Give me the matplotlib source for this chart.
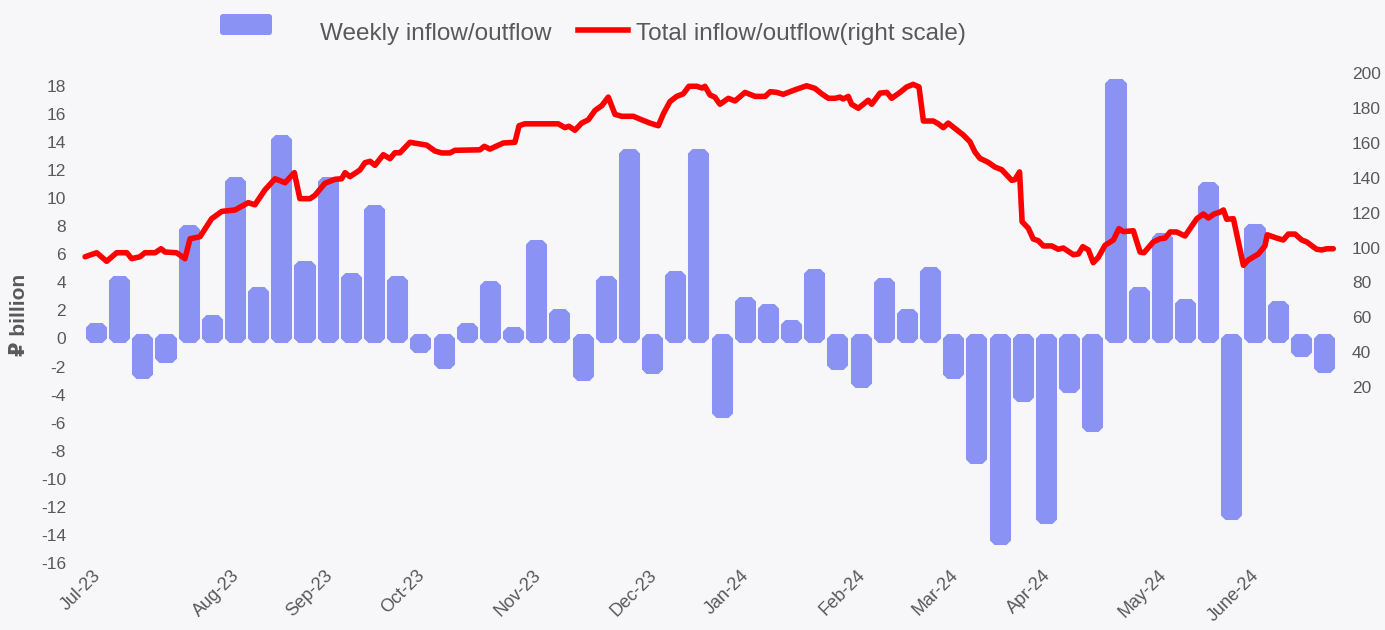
import matplotlib
matplotlib.use("Agg")
import matplotlib.pyplot as plt
import matplotlib.transforms as mtransforms
from matplotlib.patches import FancyBboxPatch
from matplotlib.lines import Line2D

# weekly inflow/outflow, RUB bn (one bar per week, Jul-23 .. Jun-24)
weekly_flow = [0.8, 4.2, -2.5, -1.4, 7.8, 1.4, 11.2, 3.4, 14.2, 5.2,
               11.2, 4.4, 9.2, 4.2, -0.7, -1.8, 0.8, 3.8, 0.5, 6.7,
               1.8, -2.7, 4.2, 13.2, -2.2, 4.5, 13.2, -5.3, 2.7, 2.2,
               1.0, 4.7, -1.9, -3.2, 4.0, 1.8, 4.8, -2.5, -8.6, -14.4,
               -4.2, -12.9, -3.5, -6.3, 18.2, 3.4, 7.2, 2.5, 10.9, -12.6,
               7.9, 2.4, -1.0, -2.1]

# cumulative total (right scale), position in weeks from first bar
total_week = [-0.47, 0.03, 0.46, 0.89, 1.33, 1.54, 1.90, 2.11, 2.55, 2.81,
              2.98, 3.48, 3.84, 4.06, 4.49, 4.99, 5.43, 6.00, 6.57, 6.86,
              7.29, 7.73, 8.16, 8.56, 8.80, 9.24, 9.45, 9.88, 10.32, 10.60,
              10.75, 10.96, 11.39, 11.61, 11.83, 12.04, 12.40, 12.69, 12.90, 13.12,
              13.55, 13.91, 14.27, 14.63, 14.92, 15.28, 15.49, 16.57, 16.76, 17.00,
              17.58, 18.08, 18.26, 18.51, 19.95, 20.24, 20.41, 20.67, 20.96, 21.25,
              21.54, 21.83, 22.11, 22.40, 22.69, 23.19, 23.55, 23.91, 24.27, 24.49,
              24.77, 25.06, 25.35, 25.59, 25.93, 26.16, 26.28, 26.50, 26.71, 26.93,
              27.29, 27.58, 28.01, 28.45, 28.88, 29.10, 29.38, 29.66, 30.17, 30.67,
              31.03, 31.32, 31.61, 31.89, 32.11, 32.25, 32.47, 32.61, 32.90, 33.33,
              33.48, 33.84, 34.13, 34.34, 34.70, 34.99, 35.27, 35.52, 35.71, 36.14,
              36.35, 36.57, 36.78, 37.07, 37.43, 37.72, 37.94, 38.15, 38.51, 38.80,
              39.09, 39.31, 39.52, 39.66, 39.86, 39.97, 40.24, 40.45, 40.67, 40.89,
              41.25, 41.53, 41.75, 42.18, 42.40, 42.59, 42.83, 43.04, 43.26, 43.55,
              43.91, 44.15, 44.34, 44.77, 45.06, 45.23, 45.63, 45.92, 46.14, 46.36,
              46.64, 47.00, 47.51, 47.79, 48.01, 48.26, 48.51, 48.66, 48.80, 49.09,
              49.52, 49.73, 50.17, 50.45, 50.55, 50.96, 51.24, 51.46, 51.75, 52.04,
              52.25, 52.68, 52.90, 53.12, 53.40]
total_flow = [94.7, 97.0, 92.1, 97.0, 97.0, 93.6, 94.7, 97.0, 97.0, 99.3,
              97.4, 97.0, 93.6, 105.0, 106.2, 116.5, 120.7, 121.5, 125.7, 124.5,
              133.0, 139.4, 137.1, 142.9, 128.0, 128.0, 129.9, 136.8, 139.1, 139.4,
              142.9, 140.6, 144.4, 148.6, 149.4, 147.1, 153.2, 150.9, 154.3, 154.3,
              160.3, 159.5, 158.7, 155.3, 154.2, 154.2, 155.7, 156.0, 158.0, 156.4,
              159.9, 160.3, 169.8, 170.9, 170.9, 168.7, 169.5, 167.2, 171.3, 173.2,
              178.6, 181.3, 186.2, 176.3, 175.2, 175.2, 173.2, 171.3, 169.8, 176.7,
              183.6, 186.6, 188.1, 192.4, 192.4, 191.4, 192.4, 187.4, 186.2, 182.1,
              185.5, 184.0, 188.9, 186.6, 186.6, 189.3, 188.9, 187.8, 190.4, 192.7,
              191.2, 188.1, 185.5, 185.5, 186.2, 185.1, 186.6, 182.1, 179.8, 184.4,
              182.1, 188.5, 188.9, 185.5, 188.9, 192.0, 193.5, 192.0, 172.5, 172.5,
              170.9, 168.7, 171.3, 168.3, 164.5, 160.6, 154.6, 151.1, 148.8, 146.1,
              144.6, 141.5, 138.5, 138.9, 143.3, 114.8, 111.0, 104.9, 103.9, 100.9,
              100.9, 99.0, 99.7, 95.9, 96.3, 100.5, 98.6, 91.3, 94.4, 101.3,
              104.3, 110.8, 109.1, 109.6, 97.4, 97.0, 103.2, 105.0, 105.4, 108.9,
              108.9, 106.6, 116.5, 119.2, 116.9, 119.2, 120.3, 121.5, 116.2, 116.5,
              89.8, 92.8, 96.3, 100.9, 107.3, 105.4, 104.3, 107.7, 107.7, 104.3,
              103.2, 99.0, 98.6, 99.3, 99.3]

month_labels = ["Jul-23", "Aug-23", "Sep-23", "Oct-23", "Nov-23", "Dec-23",
                "Jan-24", "Feb-24", "Mar-24", "Apr-24", "May-24", "June-24"]
month_week = [0, 6, 10, 14, 19, 24, 28, 33, 37, 41, 46, 50]

left_ticks = list(range(-16, 19, 2))
right_ticks = list(range(20, 201, 20))

BG = "#f7f7fa"
BAR = "#8a92f4"
RED = "#ff0000"
GREY = "#595959"
FONT = ["Liberation Sans", "DejaVu Sans"]

plt.rcParams["font.family"] = FONT

fig = plt.figure(figsize=(13.85, 6.3), dpi=100, facecolor=BG)
ax = fig.add_axes([75 / 1385, 55 / 630, 1265 / 1385, 510 / 630])
ax.set_facecolor(BG)

weeks = list(range(len(weekly_flow)))
# thick bevel-joined edge gives the clipped corners of the original bars
ax.bar(weeks, weekly_flow, width=0.52, color=BAR, edgecolor=BAR,
       linewidth=6.5, joinstyle="bevel", zorder=2)

ax.set_xlim(-0.906, 53.69)
ax.set_ylim(-16.86, 19.49)
ax.set_yticks(left_ticks)
ax.set_yticklabels([str(t) for t in left_ticks])
ax.set_xticks(month_week)
ax.set_xticklabels(month_labels, rotation=45, ha="right", va="top",
                   rotation_mode="anchor")
ax.tick_params(axis="both", length=0, labelsize=12.5, labelcolor=GREY)
ax.tick_params(axis="x", pad=0, labelsize=13)
ax.tick_params(axis="y", pad=6.5)
shift = mtransforms.ScaledTranslation(-0.04, 0.08, fig.dpi_scale_trans)
for lab in ax.get_xticklabels():
    lab.set_transform(lab.get_transform() + shift)
for s in ax.spines.values():
    s.set_visible(False)
ax.set_ylabel("₽ billion", fontsize=15, fontweight="bold", color=GREY)
ax.yaxis.set_label_coords(-0.036, 0.51)

ax2 = ax.twinx()
ax2.patch.set_visible(False)
ax2.plot(total_week, total_flow, color=RED, linewidth=4.0,
         solid_joinstyle="round", solid_capstyle="round", zorder=3)
ax2.set_ylim(-87.7, 204.6)
ax2.set_yticks(right_ticks)
ax2.set_yticklabels([str(t) for t in right_ticks])
ax2.tick_params(axis="y", length=0, labelsize=12.5, labelcolor=GREY, pad=8.5)
for s in ax2.spines.values():
    s.set_visible(False)

# legend along the top
tr = fig.dpi_scale_trans
fig.patches.append(FancyBboxPatch((2.20, 5.95), 0.52, 0.21,
                                  boxstyle="round,pad=0,rounding_size=0.03",
                                  facecolor=BAR, edgecolor="none", transform=tr))
fig.text(3.20, 5.96, "Weekly inflow/outflow", transform=tr, fontsize=17.5,
         color=GREY, va="center", ha="left")
fig.lines.append(Line2D([5.78, 6.28], [6.00, 6.00], color=RED, linewidth=4.0,
                        transform=tr))
fig.text(6.36, 5.96, "Total inflow/outflow(right scale)", transform=tr,
         fontsize=17.5, color=GREY, va="center", ha="left")

fig.savefig("out.png", dpi=100, facecolor=BG)
